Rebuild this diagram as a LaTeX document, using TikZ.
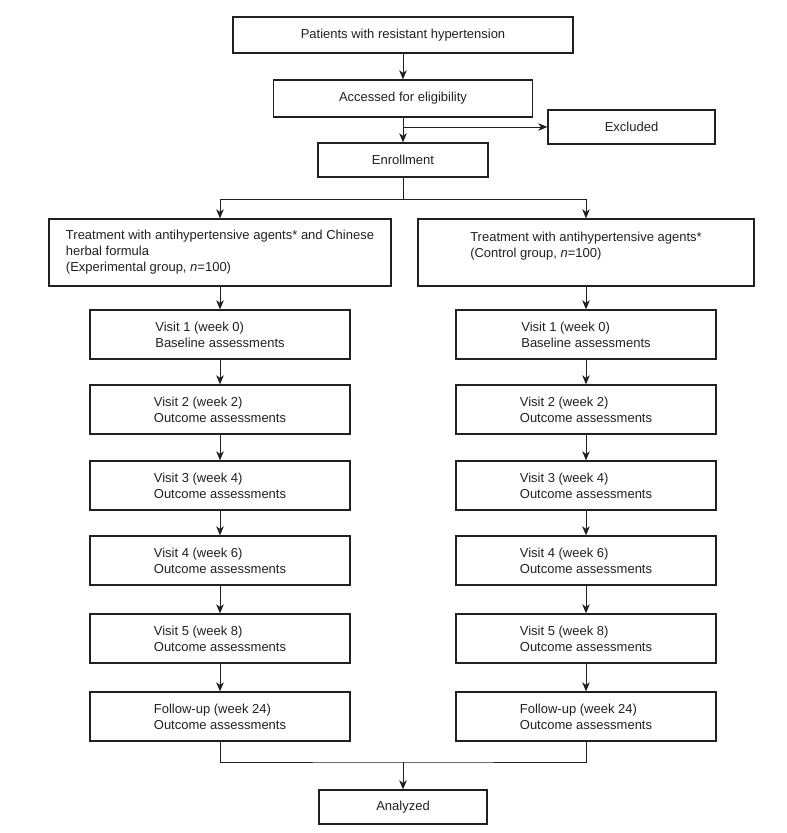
\documentclass[tikz,border=0pt]{standalone}
\usepackage{fontspec}
\setmainfont{Liberation Sans}
\usetikzlibrary{arrows.meta}
\definecolor{ink}{HTML}{231F20}
\begin{document}
\begin{tikzpicture}[x=1pt,y=-1pt,
  box/.style={draw=ink, line width=1.3pt, inner sep=0pt, text=ink,
    font=\fontsize{13pt}{16pt}\selectfont, align=left},
  arr/.style={draw=ink, line width=1pt, -{Stealth[length=9pt,width=7.5pt,inset=2.5pt]}},
  ln/.style={draw=ink, line width=1pt},
  visit/.style={box, minimum width=260pt, minimum height=49pt}]
\useasboundingbox (0,0) rectangle (787,833);

\node[box, minimum width=340pt, minimum height=36pt] (pat) at (403,35) {Patients with resistant hypertension};
\node[box, minimum width=259pt, minimum height=37pt] (acc) at (403,98.5) {Accessed for eligibility};
\node[box, minimum width=167pt, minimum height=34pt] (exc) at (631.5,127) {Excluded};
\node[box, minimum width=170pt, minimum height=34pt] (enr) at (403,160) {Enrollment};

\node[box, minimum width=342pt, minimum height=67pt] (trl) at (220,252.5)
  {Treatment with antihypertensive agents* and Chinese\\herbal formula\\(Experimental group, \textit{n}=100)};
\node[box, minimum width=336pt, minimum height=67pt] (trr) at (586,252.5)
  {Treatment with antihypertensive agents*\\(Control group, \textit{n}=100)\\\mbox{}};

\node[visit] (l1) at (220,334.5) {Visit 1 (week 0)\\Baseline assessments};
\node[visit] (l2) at (220,409.5) {Visit 2 (week 2)\\Outcome assessments};
\node[visit] (l3) at (220,485.5) {Visit 3 (week 4)\\Outcome assessments};
\node[visit] (l4) at (220,560.5) {Visit 4 (week 6)\\Outcome assessments};
\node[visit] (l5) at (220,638.5) {Visit 5 (week 8)\\Outcome assessments};
\node[visit] (l6) at (220,716.5) {Follow-up (week 24)\\Outcome assessments};

\node[visit] (r1) at (586,334.5) {Visit 1 (week 0)\\Baseline assessments};
\node[visit] (r2) at (586,409.5) {Visit 2 (week 2)\\Outcome assessments};
\node[visit] (r3) at (586,485.5) {Visit 3 (week 4)\\Outcome assessments};
\node[visit] (r4) at (586,560.5) {Visit 4 (week 6)\\Outcome assessments};
\node[visit] (r5) at (586,638.5) {Visit 5 (week 8)\\Outcome assessments};
\node[visit] (r6) at (586,716.5) {Follow-up (week 24)\\Outcome assessments};

\node[box, minimum width=168pt, minimum height=34pt] (ana) at (403,807) {Analyzed};

\coordinate (ex) at (403,127);
\coordinate (sp) at (403,199);
\coordinate (mg) at (403,762);

\draw[arr] (pat.south) -- (acc.north);
\draw[arr] (acc.south) -- (enr.north);
\draw[arr] (ex) -- (exc.west);
\draw[ln] (enr.south) -- (sp);
\draw[arr] (sp) -| (trl.north);
\draw[arr] (sp) -| (trr.north);

\draw[arr] (trl.south) -- (l1.north);
\draw[arr] (l1.south) -- (l2.north);
\draw[arr] (l2.south) -- (l3.north);
\draw[arr] (l3.south) -- (l4.north);
\draw[arr] (l4.south) -- (l5.north);
\draw[arr] (l5.south) -- (l6.north);

\draw[arr] (trr.south) -- (r1.north);
\draw[arr] (r1.south) -- (r2.north);
\draw[arr] (r2.south) -- (r3.north);
\draw[arr] (r3.south) -- (r4.north);
\draw[arr] (r4.south) -- (r5.north);
\draw[arr] (r5.south) -- (r6.north);

\draw[ln] (l6.south) |- (mg) -| (r6.south);
\draw[arr] (mg) -- (ana.north);
\end{tikzpicture}
\end{document}
